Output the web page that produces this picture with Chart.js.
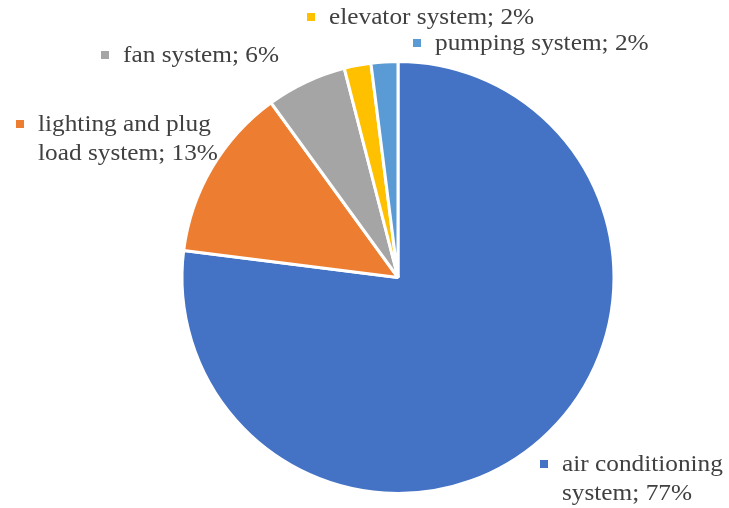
<!DOCTYPE html>
<html>
<head>
<meta charset="utf-8">
<script src="https://cdn.jsdelivr.net/npm/chart.js@4/dist/chart.umd.min.js"></script>
<style>
	html, body { margin: 0; padding: 0; background: #fff; }
	#wrap { width: 729px; height: 508px; }
</style>
</head>
<body>
<div id="wrap"><canvas id="myChart" width="729" height="508"></canvas></div>
<script>
	'use strict';

	// data
	let categories = ['air conditioning system', 'lighting and plug load system', 'fan system', 'elevator system', 'pumping system'];
	let shares = [77, 13, 6, 2, 2];
	let colours = ['#4472C4', '#ED7D31', '#A5A5A5', '#FFC000', '#5B9BD5'];

	// where each label sits (text lines, first line centre)
	let labelLayout = [
		{ lines: ['air conditioning', 'system; 77%'], x: 562, y: 465 },
		{ lines: ['lighting and plug', 'load system; 13%'], x: 38, y: 125 },
		{ lines: ['fan system; 6%'], x: 123, y: 56 },
		{ lines: ['elevator system; 2%'], x: 329, y: 18 },
		{ lines: ['pumping system; 2%'], x: 435, y: 44 }
	];

	let pieLabels = {
		id: 'pieLabels',
		afterDraw: function (chart) {
			let ctx = chart.ctx;
			let ds = chart.data.datasets[0];
			ctx.save();
			ctx.font = '23px "Liberation Serif", "Times New Roman", serif';
			ctx.textBaseline = 'middle';
			ctx.textAlign = 'left';
			labelLayout.forEach(function (lab, i) {
				ctx.fillStyle = ds.backgroundColor[i];
				ctx.fillRect(lab.x - 22, lab.y - 5, 8, 8);
				ctx.fillStyle = '#404040';
				lab.lines.forEach(function (line, k) {
					// the reference text runs a little wide
					ctx.save();
					ctx.translate(lab.x, lab.y + k * 29);
					ctx.scale(1.1, 1);
					ctx.fillText(line, 0, 0);
					ctx.restore();
				});
			});
			ctx.restore();
		}
	};

	let ctx = document.getElementById('myChart').getContext('2d');
	let myChart = new Chart(ctx, {
		type: 'pie',
		data: {
			labels  : categories,
			datasets: [
				{
					data           : shares,
					backgroundColor: colours,
					borderColor    : '#ffffff',
					borderWidth    : 3
				}
			]
		},
		options: {
			responsive: false,
			animation : false,
			layout    : {
				padding: { left: 180, right: 113, top: 60, bottom: 13 }
			},
			plugins: {
				legend : { display: false },
				tooltip: { enabled: false }
			}
		},
		plugins: [pieLabels]
	});
</script>
</body>
</html>
